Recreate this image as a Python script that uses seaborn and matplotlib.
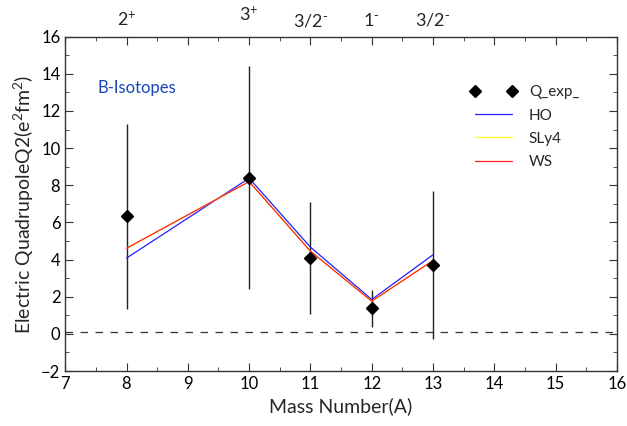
import matplotlib
matplotlib.use("Agg")
import matplotlib.pyplot as plt
import numpy as np
import pandas as pd
import seaborn as sns
from matplotlib.ticker import MultipleLocator

# B isotopes, quadrupole moments
mass = [8, 10, 11, 12, 13]
q_exp = [6.32, 8.4, 4.08, 1.37, 3.7]
q_err = [5.0, 6.0, 3.0, 1.0, 4.0]
q_ho = [4.08, 8.38, 4.67, 1.85, 4.26]
q_sly4 = [4.61, 8.2, 4.45, 1.76, 3.95]
q_ws = [4.61, 8.2, 4.45, 1.76, 3.95]

spin_mass = [8, 10, 11, 12, 13]
spin_y = [16.95, 17.2, 16.85, 16.85, 16.9]
spin_labels = ["2$^{+}$", "3$^{+}$", "3/2$^{\\text{-}}$", "1$^{\\text{-}}$", "3/2$^{\\text{-}}$"]

sns.set_style("ticks")
plt.rcParams['font.family'] = ['Lato', 'DejaVu Sans']
plt.rcParams['mathtext.default'] = 'regular'

fig = plt.figure(figsize=(6.27, 4.26), dpi=100)
ax = fig.add_axes([0.104, 0.129, 0.880, 0.785])

df = pd.DataFrame({
    "A": mass * 3,
    "Q": q_ho + q_sly4 + q_ws,
    "model": ["HO"] * 5 + ["SLy4"] * 5 + ["WS"] * 5,
})
sns.lineplot(data=df, x="A", y="Q", hue="model", ax=ax,
             palette={"HO": "#2020ff", "SLy4": "#ffff20", "WS": "#ff2020"},
             linewidth=0.9, zorder=3)

# error bars + diamonds
ax.errorbar(mass, q_exp, yerr=q_err, fmt="none", ecolor="#222222",
            elinewidth=1.0, capsize=0, zorder=2)
ax.plot(mass, q_exp, "D", color="black", markersize=6.5, label="Q_exp_", zorder=4)

ax.axhline(0.1, color="#333333", linestyle=(0, (6, 6)), linewidth=0.9, zorder=1)

ax.set_xlim(7, 16)
ax.set_ylim(-2, 16)
ax.xaxis.set_major_locator(MultipleLocator(1))
ax.xaxis.set_minor_locator(MultipleLocator(0.5))
ax.yaxis.set_major_locator(MultipleLocator(2))
ax.yaxis.set_minor_locator(MultipleLocator(1))
ax.tick_params(which="both", direction="in", top=True, right=True,
               colors="#333333", labelcolor="black", labelsize=12)
ax.tick_params(which="major", length=6)
ax.tick_params(which="minor", length=3)
for s in ax.spines.values():
    s.set_color("#333333")
    s.set_linewidth(1.0)

ax.set_xlabel("Mass Number(A)", fontsize=14)
ax.set_ylabel("Electric QuadrupoleQ2(e$^{2}$fm$^{2}$)", fontsize=14, labelpad=4)

for xm, ym, lab in zip(spin_mass, spin_y, spin_labels):
    ax.text(xm, ym, lab, ha="center", va="center", fontsize=13, clip_on=False)

ax.text(7.52, 13.25, "B-Isotopes", color="#1a44b8", fontsize=12, va="center")

handles, labels = ax.get_legend_handles_labels()
order = [labels.index(n) for n in ["Q_exp_", "HO", "SLy4", "WS"]]
ax.legend([handles[i] for i in order], [labels[i] for i in order],
          loc="upper left", bbox_to_anchor=(0.71, 0.895), frameon=False,
          numpoints=2, handlelength=3.0, fontsize=11, labelspacing=0.6)

fig.savefig("out.png", dpi=100)
